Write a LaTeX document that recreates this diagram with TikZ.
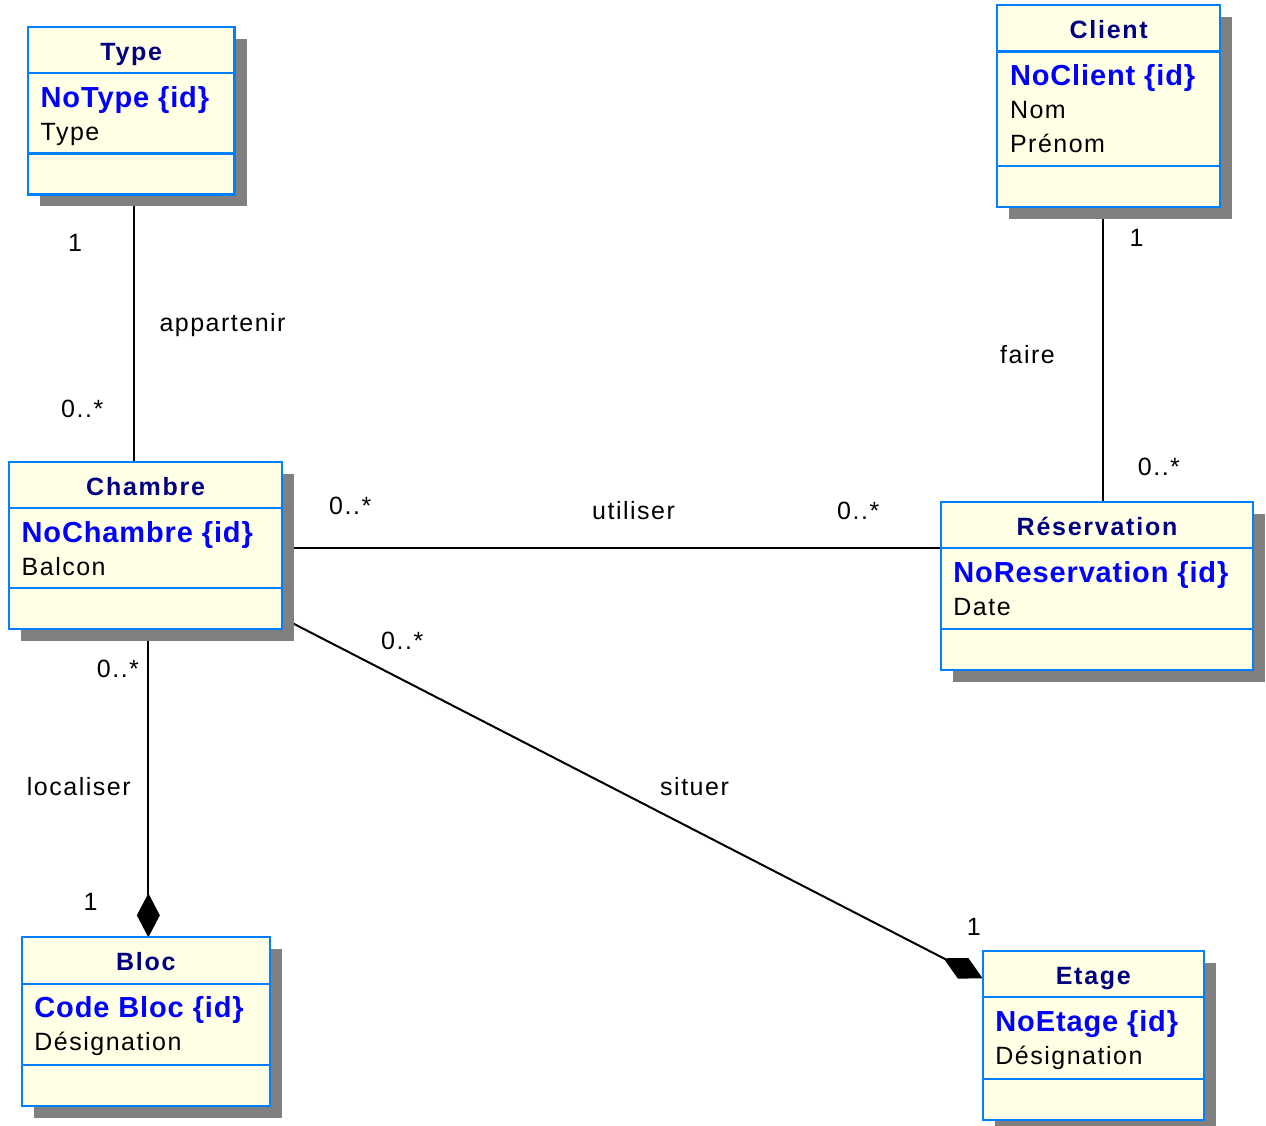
\documentclass[tikz,border=0pt]{standalone}
\usepackage{fontspec}
\setmainfont{Liberation Sans}
\newfontfamily\titlefnt[LetterSpace=7]{Liberation Sans}
\newfontfamily\regfnt[LetterSpace=6]{Liberation Sans}
\newfontfamily\idfnt[LetterSpace=3]{Liberation Sans}
\usetikzlibrary{arrows.meta,calc,fit,backgrounds}
\definecolor{boxblue}{RGB}{0,128,255}
\definecolor{boxfill}{RGB}{255,255,230}
\definecolor{shadowgray}{RGB}{128,128,128}
\definecolor{titlenavy}{RGB}{0,0,128}
\definecolor{idblue}{RGB}{0,0,255}
\tikzset{
 classbox/.style={draw=boxblue, fill=boxfill, line width=2.2pt, inner sep=0pt, outer sep=0pt},
 boxshadow/.style={fill=shadowgray},
 sepline/.style={draw=boxblue, line width=2.2pt},
 titletext/.style={font=\titlefnt\bfseries\fontsize{25}{30}\selectfont, text=titlenavy, inner sep=0pt, anchor=base},
 idtext/.style={font=\idfnt\bfseries\fontsize{29}{34}\selectfont, text=idblue, inner sep=0pt, anchor=base west},
 attrtext/.style={font=\regfnt\fontsize{25}{30}\selectfont, text=black, inner sep=0pt, anchor=base west},
 labeltext/.style={attrtext},
 conn/.style={draw=black, line width=2pt},
 compo/.style={conn, -{Diamond[length=44pt,width=23pt]}},
}
\newcommand\umlclass[8]{%
  \fill[boxshadow] (#2+12,#3+12) rectangle (#4+12,#5+12);
  \node[classbox, fit={(#2,#3) (#4,#5)}] (#1) {};
  \draw[sepline] (#2,#3+46.3) -- (#4,#3+46.3);
  \draw[sepline] (#2,#5-41) -- (#4,#5-41);
  \node[titletext] (#1-title) at ({(#2+#4)/2},#3+46.3-12.7) {#6};
  \node[idtext] (#1-id) at (#2+12.5,#3+46.3+34) {#7};
  \foreach \a [count=\i] in {#8} {
    \node[attrtext] (#1-attr\i) at (#2+12.5,#3+46.3+33.5+33.5*\i) {\a};
  }%
}
\begin{document}
\begin{tikzpicture}[x=1pt,y=-1pt]
\useasboundingbox (0,0) rectangle (1266,1126);

\umlclass{type}{28}{27}{234.5}{194.5}{Type}{NoType \{id\}}{Type}
\umlclass{client}{997.3}{5.3}{1220}{206.7}{Client}{NoClient \{id\}}{Nom, Prénom}
\umlclass{chambre}{9}{461.7}{282.3}{629.3}{Chambre}{NoChambre \{id\}}{Balcon}
\umlclass{reservation}{940.7}{501.7}{1253.3}{670}{Réservation}{NoReservation \{id\}}{Date}
\umlclass{bloc}{21.7}{937.3}{270}{1106}{Bloc}{Code Bloc \{id\}}{Désignation}
\umlclass{etage}{982.7}{951}{1204}{1120}{Etage}{NoEtage \{id\}}{Désignation}

\begin{pgfonlayer}{background}
  \fill[white] (0,0) rectangle (1266,1126);
  \coordinate (t1) at ($(type.south)+(2.3,0)$);
  \draw[conn] (t1) -- (t1 |- chambre.north);
  \coordinate (c1) at ($(client.south)+(-6,0)$);
  \draw[conn] (c1) -- (c1 |- reservation.north);
  \coordinate (u1) at ($(chambre.east)+(0,2.8)$);
  \draw[conn] (u1) -- (u1 -| reservation.west);
  \coordinate (l1) at ($(chambre.south)+(2.7,0)$);
  \draw[compo] (l1) -- (l1 |- bloc.north);
  \coordinate (s1) at ($(chambre.east)+(0,72.4)$);
  \coordinate (s2) at ($(etage.west)+(0,-57.1)$);
  \draw[compo] (s1) -- (s2);
\end{pgfonlayer}

\node[labeltext] (m1) at (68,251.7) {1};
\node[labeltext] (lapp) at (159.3,331.7) {appartenir};
\node[labeltext] (m2) at (61,417.7) {0..*};
\node[labeltext] (m3) at (1129.3,246.7) {1};
\node[labeltext] (lfaire) at (1000,363.3) {faire};
\node[labeltext] (m4) at (1137.7,475) {0..*};
\node[labeltext] (m5) at (329,514.3) {0..*};
\node[labeltext] (lutil) at (592,519.3) {utiliser};
\node[labeltext] (m6) at (837,519.3) {0..*};
\node[labeltext] (m7) at (96.7,677) {0..*};
\node[labeltext] (lloc) at (26.7,795) {localiser};
\node[labeltext] (m8) at (83.3,910) {1};
\node[labeltext] (m9) at (381,649) {0..*};
\node[labeltext] (lsit) at (660,795) {situer};
\node[labeltext] (m10) at (966.7,935) {1};
\end{tikzpicture}
\end{document}
